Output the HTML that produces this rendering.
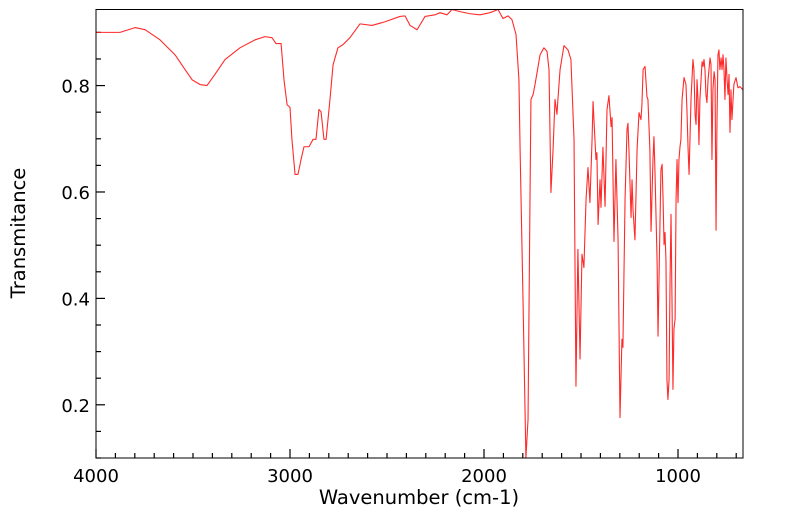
<!DOCTYPE html>
<html><head><meta charset="utf-8"><style>
body{margin:0;background:#fff;}
svg{display:block;font-family:"DejaVu Sans","Liberation Sans",sans-serif;}
</style></head><body>
<svg id="chart" width="799" height="516" viewBox="0 0 799 516">
<g id="ticks"></g>
<path id="line" fill="none" stroke="#ff2a2a" stroke-width="1.1" stroke-linejoin="round"></path>
<rect x="96" y="9.5" width="647" height="448.5" fill="none" stroke="#000" stroke-width="1"></rect>
<text x="419" y="504" font-size="19.5" text-anchor="middle">Wavenumber (cm-1)</text>
<text transform="translate(25,233) rotate(-90)" font-size="19.5" text-anchor="middle">Transmitance</text>
</svg>
<script>
const wavenumbers=[4000,3876,3799,3747,3670,3593,3541,3505,3464,3428,3387,3335,3258,3180,3129,3093,3072,3046,3031,3015,3000,2990,2974,2959,2943,2928,2902,2881,2866,2851,2840,2825,2814,2794,2778,2753,2727,2691,2639,2577,2510,2433,2407,2381,2345,2304,2253,2227,2191,2165,2124,2072,2021,1969,1928,1902,1876,1856,1835,1820,1814,1799,1784,1773,1763,1758,1747,1737,1711,1691,1675,1665,1655,1644,1634,1624,1619,1608,1588,1567,1552,1536,1526,1516,1505,1495,1485,1474,1464,1454,1443,1438,1423,1418,1412,1402,1397,1387,1376,1366,1356,1345,1340,1330,1320,1309,1299,1289,1284,1273,1263,1258,1253,1242,1237,1232,1222,1211,1201,1191,1186,1180,1170,1160,1155,1145,1139,1129,1124,1119,1108,1103,1098,1088,1082,1077,1072,1067,1062,1057,1052,1046,1041,1036,1031,1026,1021,1015,1010,1005,1000,995,990,985,979,969,959,954,948,943,933,923,918,912,907,902,897,892,887,876,871,866,861,856,851,845,835,830,825,820,814,809,804,799,794,789,784,778,773,768,763,758,753,747,742,737,732,727,722,712,701,691,681,665];
const transmittance=[0.900,0.900,0.909,0.905,0.886,0.858,0.830,0.811,0.802,0.800,0.821,0.849,0.871,0.886,0.892,0.890,0.879,0.879,0.811,0.764,0.759,0.699,0.633,0.633,0.661,0.685,0.685,0.699,0.699,0.755,0.751,0.699,0.699,0.774,0.839,0.871,0.877,0.890,0.916,0.913,0.920,0.930,0.931,0.913,0.905,0.930,0.933,0.937,0.933,0.943,0.939,0.935,0.933,0.937,0.943,0.926,0.931,0.924,0.896,0.811,0.680,0.398,0.10,0.173,0.586,0.774,0.783,0.802,0.858,0.871,0.864,0.830,0.599,0.680,0.774,0.746,0.774,0.830,0.875,0.867,0.849,0.699,0.235,0.492,0.286,0.483,0.458,0.586,0.646,0.580,0.699,0.770,0.661,0.674,0.539,0.623,0.571,0.684,0.573,0.755,0.781,0.723,0.740,0.507,0.661,0.510,0.176,0.323,0.308,0.586,0.717,0.729,0.680,0.552,0.623,0.567,0.510,0.680,0.749,0.736,0.764,0.830,0.836,0.779,0.774,0.680,0.526,0.661,0.704,0.642,0.473,0.329,0.436,0.642,0.652,0.586,0.501,0.524,0.470,0.248,0.210,0.248,0.436,0.558,0.398,0.229,0.342,0.361,0.586,0.661,0.580,0.661,0.684,0.699,0.774,0.815,0.802,0.755,0.680,0.633,0.774,0.849,0.830,0.746,0.727,0.811,0.774,0.689,0.774,0.845,0.836,0.849,0.830,0.783,0.768,0.811,0.852,0.840,0.661,0.792,0.826,0.811,0.528,0.736,0.858,0.867,0.830,0.852,0.830,0.858,0.830,0.774,0.852,0.811,0.783,0.821,0.712,0.792,0.736,0.802,0.815,0.796,0.798,0.792];
const xMajor=[4000,3000,2000,1000];
const yMajor=[0.2,0.4,0.6,0.8];
const X0=96,X1=743,Y0=458,Y1=9.5;
const xMax=4000,xMin=665,yMin=0.1,yMax=0.943;
function sx(w){return X0+(xMax-w)/(xMax-xMin)*(X1-X0);}
function sy(t){return Y0-(t-yMin)/(yMax-yMin)*(Y0-Y1);}
const NS='http://www.w3.org/2000/svg';
const g=document.getElementById('ticks');
function ln(x1,y1,x2,y2,name){const l=document.createElementNS(NS,'line');
l.setAttribute('x1',x1);l.setAttribute('y1',y1);l.setAttribute('x2',x2);l.setAttribute('y2',y2);
l.setAttribute('stroke','#000');l.setAttribute('stroke-width','1.2');


g.appendChild(l);}
function tx(x,y,s,anchor,name){const t=document.createElementNS(NS,'text');
t.setAttribute('x',x);t.setAttribute('y',y);t.setAttribute('font-size','18');t.setAttribute('text-anchor',anchor);t.textContent=s;


g.appendChild(t);}
for(let w=4000;w>=xMin;w-=100){const x=sx(w);const major=w%1000===0;ln(x,Y0,x,Y0-(major?9:5),'x-tick');}
xMajor.forEach(w=>tx(sx(w),Y0+24,String(w),'middle','x-tick-label'));
for(let i=2;i<=18;i++){const t=i*0.05;const y=sy(t);if(y<Y1||y>Y0)continue;const major=i%4===0;ln(X0,y,X0+(major?9:5),y,'y-tick');}
yMajor.forEach(t=>tx(X0-6,sy(t)+7,t.toFixed(1),'end','y-tick-label'));
let d='';
wavenumbers.forEach((w,i)=>{const y=Math.min(Y0,Math.max(Y1,sy(transmittance[i])));d+=(i?'L':'M')+sx(w).toFixed(2)+','+y.toFixed(2);});
document.getElementById('line').setAttribute('d',d);
</script>
</body></html>
